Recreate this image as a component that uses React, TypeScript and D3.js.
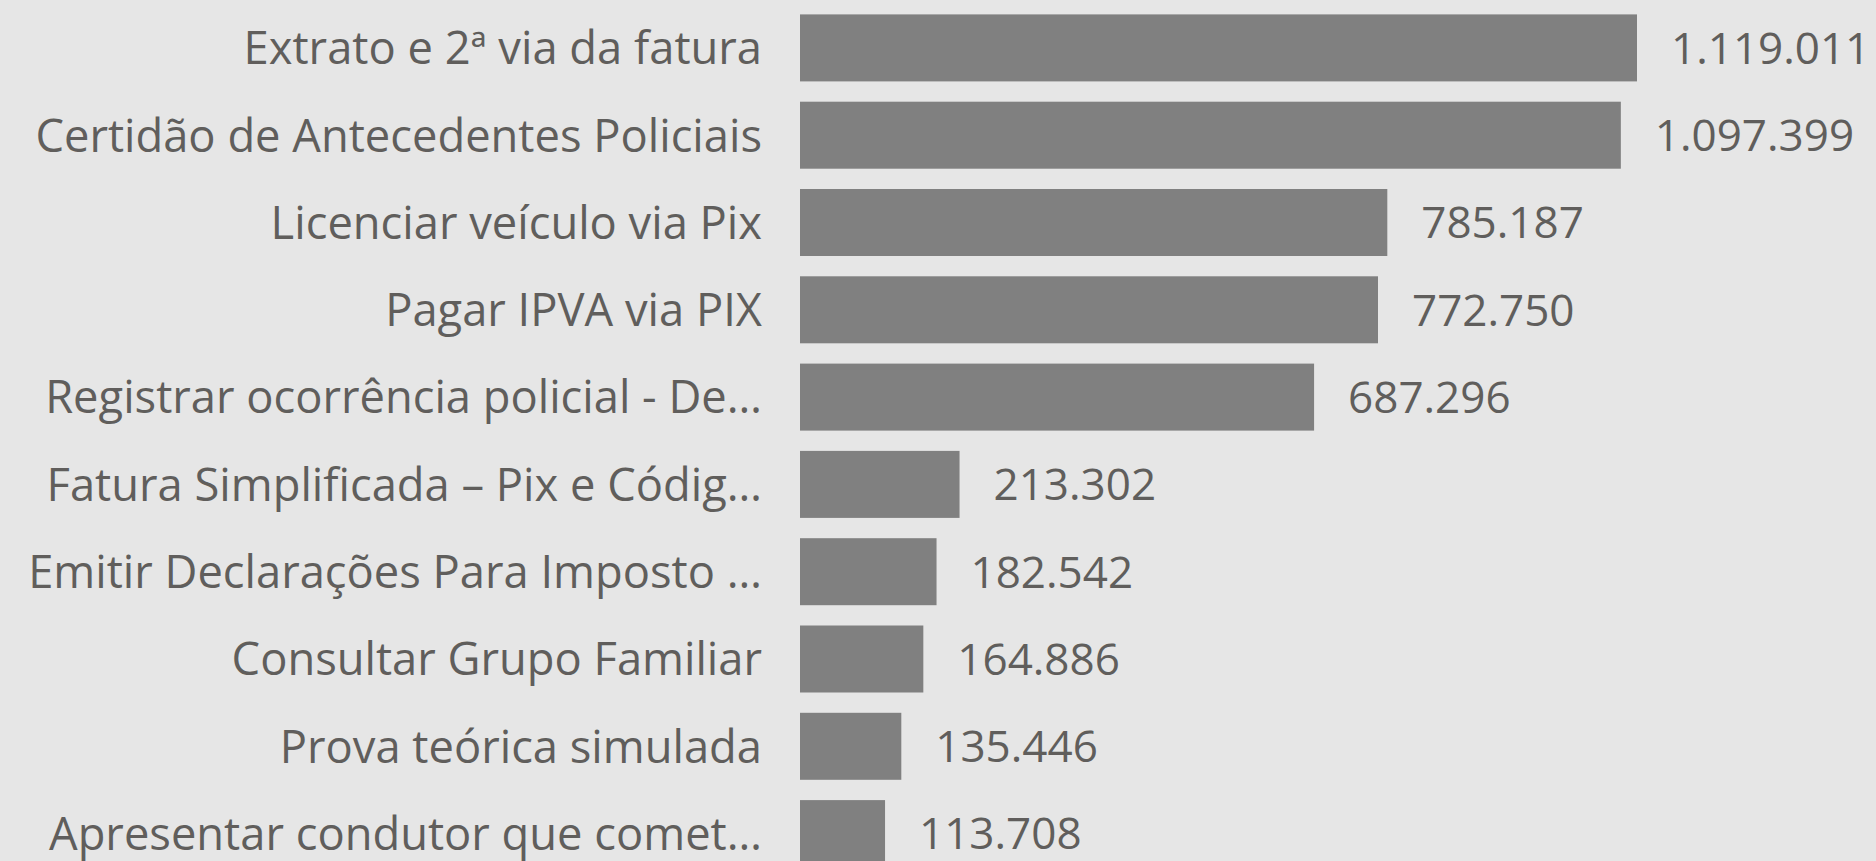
import React from "react";
import * as d3 from "d3";

const categories: string[] = [
  "Extrato e 2ª via da fatura",
  "Certidão de Antecedentes Policiais",
  "Licenciar veículo via Pix",
  "Pagar IPVA via PIX",
  "Registrar ocorrência policial - De…",
  "Fatura Simplificada – Pix e Códig…",
  "Emitir Declarações Para Imposto …",
  "Consultar Grupo Familiar",
  "Prova teórica simulada",
  "Apresentar condutor que comet…",
];

const values: number[] = [
  1119011, 1097399, 785187, 772750, 687296, 213302, 182542, 164886, 135446, 113708,
];

const W = 1876;
const H = 861;
const BG = "#E6E6E6";
const BAR = "#808080";
const TEXT = "#605E5C";
const FONT = "'Segoe UI', 'Open Sans', sans-serif";
const FS_LABEL = 45.3;
const FS_VALUE = 44;

const locale = d3.formatLocale({
  decimal: ",",
  thousands: ".",
  grouping: [3],
  currency: ["R$", ""],
});
const fmt = locale.format(",d");

export default function App() {
  const x = d3.scaleLinear().domain([0, 1119011]).range([800, 1637]);
  const y = d3
    .scaleBand<string>()
    .domain(categories)
    .range([4.25, 877.25])
    .paddingInner(0.2325)
    .paddingOuter(0.11625);
  const bw = y.bandwidth();

  return (
    <svg
      width={W}
      height={H}
      style={{ position: "fixed", left: 0, top: 0, display: "block", background: BG }}
    >
      <rect x={0} y={0} width={W} height={H} fill={BG} />
      {categories.map((c, i) => {
        const yy = y(c)!;
        const cy = yy + bw / 2;
        return (
          <g key={c}>
            <rect x={x(0)} y={yy} width={x(values[i]) - x(0)} height={bw} fill={BAR} />
            <text
              x={762}
              y={cy + FS_LABEL * 0.36}
              textAnchor="end"
              fontFamily={FONT}
              fontSize={FS_LABEL}
              fill={TEXT}
            >
              {c}
            </text>
            <text
              x={x(values[i]) + 34}
              y={cy + FS_VALUE * 0.36}
              textAnchor="start"
              fontFamily={FONT}
              fontSize={FS_VALUE}
              fill={TEXT}
            >
              {fmt(values[i])}
            </text>
          </g>
        );
      })}
    </svg>
  );
}
